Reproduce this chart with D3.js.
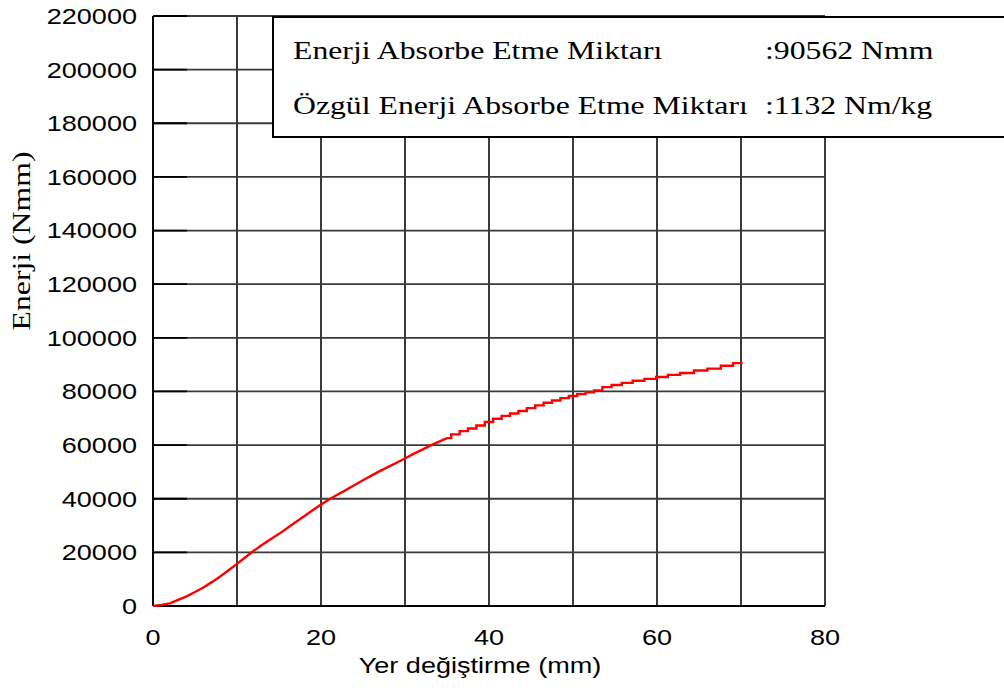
<!DOCTYPE html>
<html>
<head>
<meta charset="utf-8">
<script src="https://cdn.jsdelivr.net/npm/d3@7"></script>
<style>
  html, body { margin: 0; padding: 0; background: #fff; }
  svg { display: block; }
</style>
</head>
<body>
<svg id="chart" width="1004" height="688"></svg>
<script>
// Absorbed energy vs. displacement
const displacement = [
  0, 1, 2, 3, 4, 5, 6, 7, 8, 9, 10, 11, 12, 13, 14, 15, 16, 17, 18, 19,
  20, 21, 22, 23, 24, 25, 26, 27, 28, 29, 30, 31, 32, 33, 34, 35, 36, 37, 38, 39,
  40, 41, 42, 43, 44, 45, 46, 47, 48, 49, 50, 51, 52, 53,
  54.0, 55.2, 56.4, 57.8, 59.2, 60.6, 62.0, 63.5, 65.3, 66.7, 68.5, 69.6, 70.2
];
const energy = [
  0, 400, 1000, 2300, 3600, 5200, 6900, 8900, 11000, 13300, 15700, 18200, 20600, 22800, 24900, 26900, 29100, 31300, 33500, 35700,
  37800, 39800, 41600, 43300, 45100, 46900, 48600, 50300, 51900, 53400, 55000, 56700, 58200, 59800, 61200, 62600, 64000, 65200, 66200, 67300,
  68600, 69800, 70900, 71800, 72700, 73800, 74800, 75800, 76600, 77500, 78300, 79000, 79700, 80400,
  81600, 82400, 83200, 84000, 84700, 85400, 86200, 86900, 87800, 88500, 89600, 90562, 90562
];
// beyond this displacement the recorded trace shows visible stair steps
const stepFrom = 35;

const xTicks = [0, 20, 40, 60, 80];
const xGrid = [0, 10, 20, 30, 40, 50, 60, 70, 80];
const yTicks = [0, 20000, 40000, 60000, 80000, 100000, 120000, 140000, 160000, 180000, 200000, 220000];

const xTitle = "Yer değiştirme (mm)";
const yTitle = "Enerji (Nmm)";
const infoLabels = ["Enerji Absorbe Etme Miktarı", "Özgül Enerji Absorbe Etme Miktarı"];
const infoValues = [":90562 Nmm", ":1132 Nm/kg"];

const SANS = "'Liberation Sans', Arial, Helvetica, sans-serif";
const SERIF = "'Liberation Serif', 'Times New Roman', Times, serif";
const SANS_STRETCH = 1.23;
const SERIF_STRETCH = 1.27;

const svg = d3.select("#chart");
const plot = { left: 153, right: 825, top: 16, bottom: 606 };

const x = d3.scaleLinear().domain([0, 80]).range([plot.left, plot.right]);
const y = d3.scaleLinear().domain([0, 220000]).range([plot.bottom, plot.top]);

// text drawn with a horizontal stretch along its own direction
function label(parent, str, px, py, opts) {
  const g = parent.append("g")
    .attr("transform", `translate(${px},${py})` + (opts.rotate ? ` rotate(${opts.rotate})` : "") + ` scale(${opts.stretch},1)`);
  g.append("text")
    .attr("x", 0).attr("y", 0)
    .attr("text-anchor", opts.anchor || "start")
    .attr("font-family", opts.family)
    .attr("font-size", opts.size)
    .attr("fill", "#000")
    .text(str);
  return g;
}

// grid
const grid = svg.append("g");
grid.selectAll("line.v").data(xGrid).join("line")
  .attr("class", "v")
  .attr("x1", d => x(d)).attr("x2", d => x(d))
  .attr("y1", plot.top).attr("y2", plot.bottom)
  .attr("stroke", "#3a3a3a").attr("stroke-width", 2);
grid.selectAll("line.h").data(yTicks).join("line")
  .attr("class", "h")
  .attr("x1", plot.left).attr("x2", plot.right)
  .attr("y1", d => y(d)).attr("y2", d => y(d))
  .attr("stroke", "#3a3a3a").attr("stroke-width", 1.8);

// inner tick marks along the left axis
grid.selectAll("line.t").data(yTicks).join("line")
  .attr("class", "t")
  .attr("x1", plot.left).attr("x2", plot.left + 34)
  .attr("y1", d => y(d)).attr("y2", d => y(d))
  .attr("stroke", "#000").attr("stroke-width", 1.8);

// axis lines
svg.append("line")
  .attr("x1", plot.left).attr("x2", plot.left)
  .attr("y1", plot.top).attr("y2", plot.bottom)
  .attr("stroke", "#000").attr("stroke-width", 1.8);
svg.append("line")
  .attr("x1", plot.left).attr("x2", plot.right)
  .attr("y1", plot.bottom).attr("y2", plot.bottom)
  .attr("stroke", "#000").attr("stroke-width", 1.8);

// energy trace: dense early part as a polyline, later part as stair steps
const points = displacement.map((d, i) => [d, energy[i]]);
const early = points.filter(p => p[0] <= stepFrom);
const late = points.filter(p => p[0] >= stepFrom);
const smooth = d3.line().x(d => x(d[0])).y(d => y(d[1])).curve(d3.curveLinear);
const stepped = d3.line().x(d => x(d[0])).y(d => y(d[1])).curve(d3.curveStep);
const trace = svg.append("g")
  .attr("fill", "none")
  .attr("stroke", "#ff0000")
  .attr("stroke-width", 2.4)
  .attr("stroke-linejoin", "miter");
trace.append("path").datum(early).attr("d", smooth);
trace.append("path").datum(late).attr("d", stepped);

// tick labels
const yLab = svg.append("g");
yTicks.forEach(t => {
  label(yLab, String(t), 137, y(t) + 7.9, { anchor: "end", family: SANS, size: 22, stretch: SANS_STRETCH });
});
const xLab = svg.append("g");
xTicks.forEach(t => {
  label(xLab, String(t), x(t), 645, { anchor: "middle", family: SANS, size: 22, stretch: SANS_STRETCH });
});

// axis titles
label(svg, xTitle, 480, 673, { anchor: "middle", family: SANS, size: 22, stretch: SANS_STRETCH });
label(svg, yTitle, 29.5, 241, { anchor: "middle", family: SERIF, size: 25, stretch: SERIF_STRETCH, rotate: -90 });

// info box
const box = svg.append("g");
box.append("rect")
  .attr("x", 273).attr("y", 17)
  .attr("width", 760).attr("height", 120)
  .attr("fill", "#fff")
  .attr("stroke", "#000").attr("stroke-width", 2);
const rowBase = [58.5, 113.5];
infoLabels.forEach((s, i) => {
  label(box, s, 293, rowBase[i], { anchor: "start", family: SERIF, size: 25, stretch: SERIF_STRETCH });
});
infoValues.forEach((s, i) => {
  label(box, s, 765, rowBase[i], { anchor: "start", family: SERIF, size: 25, stretch: SERIF_STRETCH });
});
</script>
</body>
</html>
